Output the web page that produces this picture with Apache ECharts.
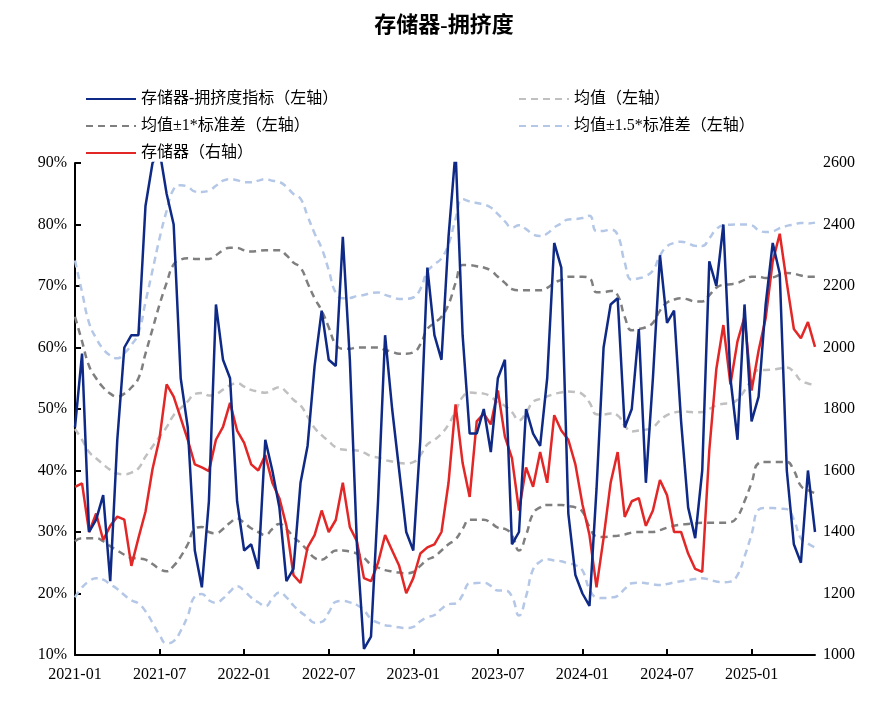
<!DOCTYPE html>
<html>
<head>
<meta charset="utf-8">
<script src="https://cdn.jsdelivr.net/npm/echarts@6/dist/echarts.min.js"></script>
<style>html,body{margin:0;padding:0;background:#fff}#main{width:888px;height:706px}</style>
</head>
<body>
<div id="main"></div>
<script>
// half-month dates, 2021-01 .. 2025-05
var dates = [];
for (var i = 0; i < 106; i++) {
    var y = 2021 + Math.floor(i / 24);
    var m = Math.floor((i % 24) / 2) + 1;
    dates.push(y + '-' + (m < 10 ? '0' + m : m) + (i % 2 ? '-15' : '-01'));
}

// 存储器-拥挤度指标 (%)
var crowd = [47, 59, 30, 32, 36, 22, 45, 60, 62, 62, 83, 90, 92, 85, 80, 55, 47, 27, 21, 35,
    67, 58, 55, 35, 27, 28, 24, 45, 40, 34, 22, 24, 38, 44, 57, 66, 58, 57, 78, 58,
    28, 11, 13, 35, 62, 50, 40, 30, 27, 45, 73, 62, 58, 78, 92, 62, 46, 46, 50, 43,
    55, 58, 28, 30, 50, 46, 44, 55, 77, 73, 33, 23, 20, 18, 37, 60, 67, 68, 47, 50,
    63, 38, 55, 75, 64, 66, 48, 34, 29, 40, 74, 70, 80, 55, 45, 67, 48, 52, 67, 77,
    72, 40, 28, 25, 40, 30];

// 存储器指数 (右轴)
var price = [1547, 1558, 1400, 1460, 1374, 1420, 1450, 1440, 1290, 1380, 1466, 1605, 1705, 1880, 1840, 1770, 1700, 1620, 1610, 1598,
    1700, 1742, 1820, 1730, 1690, 1620, 1600, 1650, 1560, 1510, 1420, 1260, 1234, 1350, 1390, 1470, 1400, 1439, 1560, 1416,
    1370, 1250, 1240, 1300, 1390, 1340, 1290, 1201, 1250, 1330, 1350, 1360, 1400, 1560, 1815, 1624, 1514, 1760, 1785, 1750,
    1860, 1710, 1640, 1470, 1610, 1547, 1660, 1560, 1780, 1730, 1700, 1620, 1490, 1390, 1220, 1380, 1560, 1660, 1449, 1500,
    1510, 1420, 1470, 1569, 1520, 1400, 1400, 1330, 1280, 1270, 1665, 1930, 2073, 1880, 2020, 2100, 1860, 1990, 2095, 2280,
    2370, 2210, 2060, 2030, 2083, 2002];

// 均值+1*标准差
var upper1 = [65, 61, 57, 55, 53.5, 52.5, 52, 52.5, 53.5, 55, 59, 63, 67, 70.5, 73.5, 74.3, 74.5, 74.4, 74.4, 74.4,
    75, 75.8, 76.2, 76.2, 75.8, 75.6, 75.7, 75.8, 75.8, 75.8, 75, 73.8, 73, 70.5, 68, 66, 63.3, 60.5, 59.8, 59.8,
    60, 60, 60, 60, 59.6, 59.3, 59, 59, 59.2, 60.5, 63, 64, 65, 67, 70.5, 73.4, 73.4, 73.2, 73, 72.5,
    71.5, 70.5, 69.5, 69.3, 69.3, 69.3, 69.3, 69.7, 70.5, 71, 71.5, 71.5, 71.5, 71.3, 69, 69, 69.2, 68.5, 65, 62.8,
    63, 63.3, 64, 66, 67.3, 67.8, 68, 67.8, 67.5, 67.5, 68.5, 69.7, 70.2, 70.3, 70.5, 71, 71.5, 71.5, 71.3, 71.4,
    71.8, 72.1, 72, 71.7, 71.5, 71.5];

// 均值-1*标准差
var lower1 = [28.5, 29, 29, 29, 28.5, 27.7, 27, 26.3, 25.8, 25.7, 25.5, 24.8, 24, 23.6, 24.5, 26, 28, 30.5, 30.8, 30,
    29.8, 30.5, 31.5, 32.2, 31.5, 30.6, 30, 29.5, 30.5, 31.3, 30.5, 29.2, 28.2, 27, 25.8, 25.5, 26.2, 27, 27, 26.8,
    26.5, 25.8, 24.7, 24.2, 23.8, 23.6, 23.4, 23.3, 23.5, 24.5, 25.5, 26, 27, 28, 28.8, 30.5, 32, 32, 32, 31.5,
    30.7, 30.5, 29.5, 27, 29.5, 33, 34, 34.4, 34.4, 34.4, 34.2, 34, 33.3, 30.8, 29.3, 29.2, 29.3, 29.4, 29.6, 29.9,
    30, 30, 30, 30.3, 30.7, 31, 31.2, 31.3, 31.4, 31.5, 31.5, 31.5, 31.5, 31.6, 32.5, 35, 38, 41.2, 41.4, 41.4,
    41.4, 41.4, 40, 37.5, 36.8, 36.3];

var mean = upper1.map(function(u, i) { return +((u + lower1[i]) / 2).toFixed(2); });
var upper15 = upper1.map(function(u, i) { return +(mean[i] + 1.5 * (u - mean[i])).toFixed(2); });
var lower15 = lower1.map(function(l, i) { return +(mean[i] - 1.5 * (mean[i] - l)).toFixed(2); });

var serif = '"Liberation Serif", "Noto Sans CJK SC", serif';
var myChart = echarts.init(document.getElementById('main'));

function dashed(name, data, color) {
    return {
        name: name, type: 'line', data: data, symbol: 'none', smooth: true,
        lineStyle: { color: color, width: 2.5, type: [7, 5] },
        itemStyle: { color: color }, z: 1
    };
}

var legendText = { fontFamily: serif, fontSize: 16, color: '#000' };

option = {
    animation: false,
    title: {
        text: '存储器-拥挤度', left: 'center', top: 10,
        textStyle: { fontFamily: serif, fontSize: 22, fontWeight: 'bold', color: '#000' }
    },
    legend: [{
        orient: 'vertical', left: 80, top: 86, itemWidth: 50, itemHeight: 12, itemGap: 11,
        textStyle: legendText, itemStyle: { opacity: 0 },
        data: ['存储器-拥挤度指标（左轴）', '均值±1*标准差（左轴）', '存储器（右轴）']
    }, {
        orient: 'vertical', left: 513, top: 86, itemWidth: 50, itemHeight: 12, itemGap: 11,
        textStyle: legendText, itemStyle: { opacity: 0 },
        data: ['均值（左轴）', '均值±1.5*标准差（左轴）']
    }],
    grid: { left: 75, right: 73, top: 163, bottom: 51 },
    xAxis: {
        type: 'category', data: dates, boundaryGap: false,
        axisLine: { lineStyle: { color: '#000', width: 2 } },
        axisTick: { inside: true, length: 6, interval: function(i) { return i % 12 === 0; }, lineStyle: { color: '#000', width: 2 } },
        axisLabel: {
            interval: function(i) { return i % 12 === 0; },
            formatter: function(v) { return v.slice(0, 7); },
            fontFamily: serif, fontSize: 16, color: '#000', margin: 12
        }
    },
    yAxis: [{
        type: 'value', min: 10, max: 90, interval: 10,
        splitLine: { show: false },
        axisLine: { show: true, lineStyle: { color: '#000', width: 2 } },
        axisTick: { show: true, inside: true, length: 6, lineStyle: { color: '#000', width: 2 } },
        axisLabel: { formatter: '{value}%', fontFamily: serif, fontSize: 16, color: '#000' }
    }, {
        type: 'value', min: 1000, max: 2600, interval: 200,
        splitLine: { show: false },
        axisLine: { show: false },
        axisTick: { show: false },
        axisLabel: {
            formatter: function(v) { return String(v); },
            fontFamily: serif, fontSize: 16, color: '#000', margin: 8
        }
    }],
    series: [
        dashed('均值（左轴）', mean, '#c0c0c0'),
        dashed('均值±1*标准差（左轴）', upper1, '#7f7f7f'),
        dashed('均值±1*标准差（左轴）', lower1, '#7f7f7f'),
        dashed('均值±1.5*标准差（左轴）', upper15, '#b4c7e7'),
        dashed('均值±1.5*标准差（左轴）', lower15, '#b4c7e7'),
        {
            name: '存储器（右轴）', type: 'line', yAxisIndex: 1, data: price, symbol: 'none',
            lineStyle: { color: '#e32626', width: 2.5 }, itemStyle: { color: '#e32626' }, z: 3
        },
        {
            name: '存储器-拥挤度指标（左轴）', type: 'line', data: crowd, symbol: 'none',
            lineStyle: { color: '#0e2a86', width: 2.5 }, itemStyle: { color: '#0e2a86' }, z: 4
        }
    ]
};

myChart.setOption(option);
</script>
</body>
</html>
